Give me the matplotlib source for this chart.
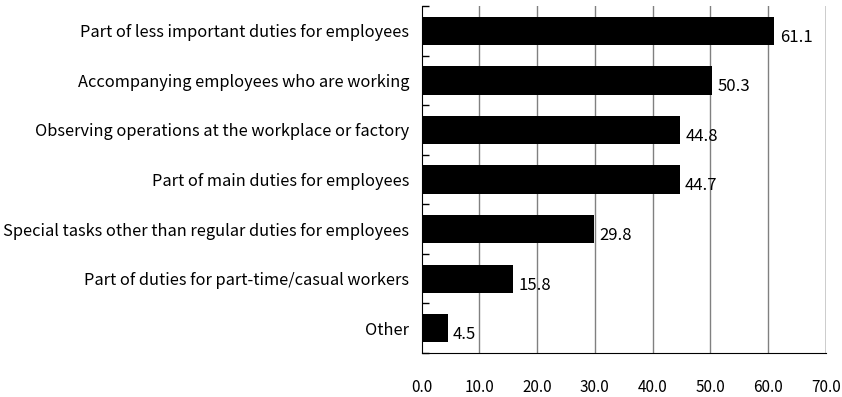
import matplotlib
matplotlib.use("Agg")
import matplotlib.pyplot as plt

plt.rcParams['font.family'] = ['Noto Sans CJK JP', 'DejaVu Sans']

categories = [
    "Part of less important duties for employees",
    "Accompanying employees who are working",
    "Observing operations at the workplace or factory",
    "Part of main duties for employees",
    "Special tasks other than regular duties for employees",
    "Part of duties for part-time/casual workers",
    "Other",
]
values = [61.1, 50.3, 44.8, 44.7, 29.8, 15.8, 4.5]
xticks = [0, 10, 20, 30, 40, 50, 60, 70]
xticklabels = ["0.0", "10.0", "20.0", "30.0", "40.0", "50.0", "60.0", "70.0"]

fig = plt.figure(figsize=(8.42, 3.97), dpi=100)
ax = fig.add_axes([0.5008, 0.1108, 0.48, 0.874])

n = len(categories)
ypos = list(range(n))
ax.barh(ypos, values, height=0.57, color='black', zorder=3)
ax.set_ylim(n - 0.5, -0.5)
ax.set_xlim(0, 70)

for x in xticks[1:-1]:
    ax.axvline(x, color='#808080', lw=1.0, zorder=1)
ax.axvline(70, color='black', lw=1.0, zorder=1)

ax.set_xticks(xticks)
ax.set_xticklabels(xticklabels, fontsize=11)
ax.tick_params(axis='x', length=0, pad=19)

ax.set_yticks(ypos)
ax.set_yticklabels(categories, fontsize=11.8)
ax.tick_params(axis='y', length=0, pad=9)
ax.set_yticks([i + 0.5 for i in range(-1, n)], minor=True)
ax.tick_params(axis='y', which='minor', direction='in', length=5, width=1, color='black')

for s in ['top', 'right']:
    ax.spines[s].set_visible(False)
ax.spines['left'].set_color('black')
ax.spines['bottom'].set_color('black')
ax.spines['left'].set_zorder(4)

for y, v in zip(ypos, values):
    ax.text(v + 0.9, y + 0.13, f"{v:.1f}", va='center', ha='left', fontsize=12, zorder=5)

fig.savefig("out.png", dpi=100)
